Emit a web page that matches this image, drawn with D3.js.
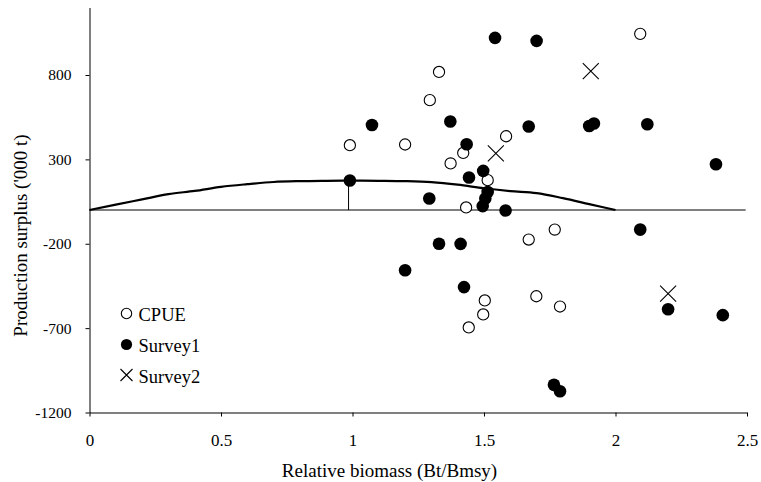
<!DOCTYPE html>
<html>
<head>
<meta charset="utf-8">
<script src="https://cdn.jsdelivr.net/npm/d3@7"></script>
<style>
  body { margin: 0; background: #fff; }
  svg { display: block; font-family: "Liberation Serif", "Times New Roman", serif; }
</style>
</head>
<body>
<svg id="chart"></svg>
<script>
const width = 761;
const height = 482;

// CPUE (open circles): [Bt/Bmsy, surplus]
const cpueB = [2.094, 1.329, 1.294, 0.99, 1.2, 1.584, 1.421, 1.373, 1.514, 1.432, 1.769, 1.67, 1.503, 1.699, 1.789, 1.497, 1.442];
const cpueP = [1044, 818, 651, 384, 388, 437, 338, 276, 177, 15, -116, -175, -536, -511, -572, -619, -696];

// Survey1 (filled circles)
const survey1B = [1.542, 1.7, 1.074, 1.372, 1.67, 1.9, 1.918, 2.121, 2.382, 1.434, 1.443, 1.497, 1.292, 1.514, 1.505, 1.495, 1.582, 2.094, 1.329, 1.411, 1.2, 1.424, 2.2, 2.408, 1.766, 1.789, 0.99];
const survey1P = [1020, 1002, 504, 524, 495, 498, 513, 508, 271, 390, 193, 232, 68, 107, 68, 23, -3, -116, -200, -201, -357, -457, -588, -623, -1036, -1074, 175];

// Survey2 (crosses)
const survey2B = [1.906, 1.545, 2.2];
const survey2P = [823, 335, -495];

// production curve
const curveB = [0, 0.1, 0.2, 0.3, 0.4, 0.5, 0.6, 0.7, 0.8, 0.9, 1.0, 1.1, 1.2, 1.3, 1.4, 1.5, 1.6, 1.7, 1.8, 1.9, 2.0];
const curveP = [0, 32, 63, 94, 113, 137, 153, 166, 171, 173, 174, 173, 171, 165, 150, 129, 112, 100, 70, 35, 0];

const bmsyDrop = { b: 0.985, p: 174 };
const zeroLineEnd = 2.495;

const xTicks = [0, 0.5, 1, 1.5, 2, 2.5];
const yTicks = [-1200, -700, -200, 300, 800];
const legendNames = ["CPUE", "Survey1", "Survey2"];

const svg = d3.select("#chart").attr("width", width).attr("height", height);

const x = d3.scaleLinear().domain([0, 2.5]).range([89.5, 747]);
const y = d3.scaleLinear().domain([-1200, 1200]).range([412.5, 7.5]);

// axes
const yAxis = svg.append("g")
  .attr("transform", "translate(89.5,0)")
  .call(d3.axisLeft(y).tickValues(yTicks).tickFormat(d3.format("d")).tickSize(4).tickSizeOuter(0).tickPadding(14));
yAxis.selectAll("text").attr("font-size", "15.5px").attr("font-family", "Liberation Serif").attr("fill", "#000")
  .text((d) => String(d).replace("\u2212", "-"));
yAxis.selectAll("line,path").attr("stroke", "#000");

const xAxis = svg.append("g")
  .attr("transform", "translate(0,412.5)")
  .call(d3.axisBottom(x).tickValues(xTicks).tickFormat((d) => String(d)).tickSize(4).tickSizeOuter(0).tickPadding(17));
xAxis.selectAll("text").attr("font-size", "17px").attr("font-family", "Liberation Serif").attr("fill", "#000");
xAxis.selectAll("line,path").attr("stroke", "#000");

// zero line
svg.append("line")
  .attr("x1", x(0)).attr("x2", x(zeroLineEnd))
  .attr("y1", y(0)).attr("y2", y(0))
  .attr("stroke", "#000").attr("stroke-width", 1);

// drop line at Bmsy
svg.append("line")
  .attr("x1", x(bmsyDrop.b)).attr("x2", x(bmsyDrop.b))
  .attr("y1", y(0)).attr("y2", y(bmsyDrop.p))
  .attr("stroke", "#000").attr("stroke-width", 1);

// production curve
const line = d3.line().x((d) => x(d[0])).y((d) => y(d[1])).curve(d3.curveMonotoneX);
svg.append("path")
  .datum(d3.zip(curveB, curveP))
  .attr("d", line)
  .attr("fill", "none")
  .attr("stroke", "#000")
  .attr("stroke-width", 2.2);

// points
svg.append("g").selectAll("circle")
  .data(d3.zip(cpueB, cpueP))
  .join("circle")
  .attr("cx", (d) => x(d[0])).attr("cy", (d) => y(d[1]))
  .attr("r", 5.6)
  .attr("fill", "#fff").attr("stroke", "#000").attr("stroke-width", 1.1);

svg.append("g").selectAll("circle")
  .data(d3.zip(survey1B, survey1P))
  .join("circle")
  .attr("cx", (d) => x(d[0])).attr("cy", (d) => y(d[1]))
  .attr("r", 6.3)
  .attr("fill", "#000");

const cross = (g, s) => g.append("path")
  .attr("d", `M${-s},${-s}L${s},${s}M${-s},${s}L${s},${-s}`)
  .attr("stroke", "#000").attr("stroke-width", 1.1).attr("fill", "none");

svg.append("g").selectAll("g")
  .data(d3.zip(survey2B, survey2P))
  .join("g")
  .attr("transform", (d) => `translate(${x(d[0])},${y(d[1])})`)
  .each(function () { cross(d3.select(this), 8); });

// legend
const legend = svg.append("g");
const legendY = [313.5, 344.5, 375];
legendNames.forEach((name, i) => {
  const g = legend.append("g").attr("transform", `translate(126.5,${legendY[i]})`);
  if (i === 0) g.append("circle").attr("r", 5.2).attr("fill", "#fff").attr("stroke", "#000").attr("stroke-width", 1.1);
  if (i === 1) g.append("circle").attr("r", 5.6).attr("fill", "#000");
  if (i === 2) cross(g, 6);
  g.append("text")
    .attr("x", 12).attr("y", 7.5)
    .attr("font-size", "18.5px")
    .text(name);
});

// axis titles
svg.append("text")
  .attr("x", 389.5).attr("y", 476.5)
  .attr("text-anchor", "middle")
  .attr("font-size", "19px")
  .text("Relative biomass (Bt/Bmsy)");

svg.append("text")
  .attr("transform", "translate(27,235.5) rotate(-90)")
  .attr("text-anchor", "middle")
  .attr("font-size", "19px")
  .text("Production surplus ('000 t)");
</script>
</body>
</html>
